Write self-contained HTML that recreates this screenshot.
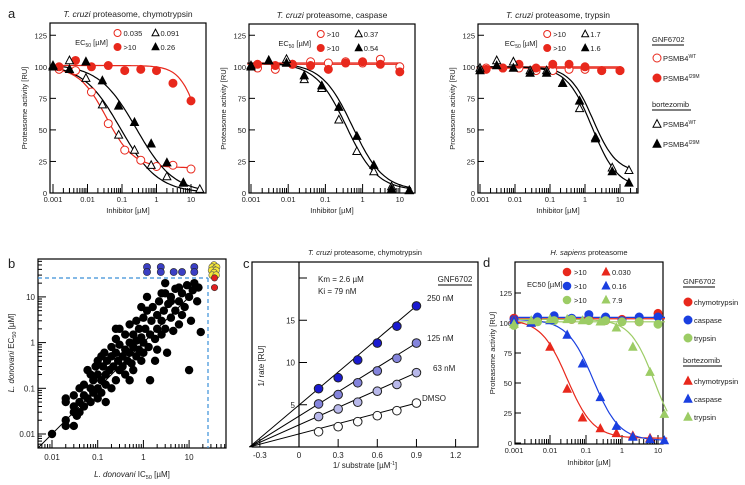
<!DOCTYPE html>
<html><head><meta charset="utf-8">
<style>
html,body{margin:0;padding:0;background:#fff;}
svg{display:block;font-family:"Liberation Sans",Arial,sans-serif;}
</style></head>
<body>
<svg id="fig" width="745" height="485" viewBox="0 0 745 485"></svg>
<script>
// ---------- DATA ----------
const a1X = [0.001,0.003,0.009,0.027,0.08,0.23,0.7,2,6,18];
const a1RedX = [0.0015,0.0045,0.013,0.04,0.12,0.35,1,3,10];
const a1OpenRed = [98,97,80,55,34,26,21,22,19];
const a1FillRed = [100,105,100,101,97,98,97,87,73];
const a1OpenTri = [101,105,91,70,46,34,22,13,8,3];
const a1FillTri = [100,98,104,89,69,56,39,24,8,null];
const a2OpenRed = [99,98,102,104,103,104,103,106,100];
const a2FillRed = [102,101,102,101,98,103,104,102,96];
const a2OpenTri = [101,105,106,90,83,58,33,17,5,2];
const a2FillTri = [100,105,103,93,85,68,45,22,3,2];
const a3OpenRed = [99,99,99,97,97,98,98,97,97];
const a3FillRed = [98,99,102,99,102,102,100,97,97];
const a3OpenTri = [99,105,104,97,97,87,67,44,20,18];
const a3FillTri = [97,101,99,95,95,87,73,43,17,8];
const a1Fits = [[100,20,0.035,1.1],[101,0,20,1.5],[102,0,0.091,0.8],[102,0,0.26,0.8]];
const a2Fits = [[103,103,1,1],[102,102,1,1],[103,2,0.37,1.05],[103,2,0.54,1.05]];
const a3Fits = [[99,99,1,1],[100,100,1,1],[100,16,1.7,1.3],[100,4,1.6,1.2]];
const yTicksA = [0,25,50,75,100,125];
const xTicksLog = [0.001,0.01,0.1,1,10];
const xTickLabels = ["0.001","0.01","0.1","1","10"];
const bPts = [[0.01,0.01],[0.02,0.015],[0.02,0.02],[0.02,0.05],[0.02,0.06],[0.03,0.03],[0.03,0.04],[0.03,0.07],[0.035,0.025],[0.04,0.05],[0.04,0.1],[0.04,0.03],[0.05,0.04],[0.05,0.07],[0.05,0.12],[0.06,0.25],[0.06,0.06],[0.07,0.05],[0.07,0.1],[0.07,0.2],[0.08,0.08],[0.08,0.15],[0.09,0.3],[0.1,0.1],[0.1,0.06],[0.1,0.2],[0.1,0.4],[0.12,0.15],[0.12,0.08],[0.13,0.3],[0.14,0.6],[0.15,0.12],[0.15,0.2],[0.16,0.4],[0.18,0.25],[0.2,0.1],[0.2,0.5],[0.2,0.8],[0.22,0.3],[0.25,0.15],[0.25,0.6],[0.25,1.2],[0.28,0.4],[0.3,0.25],[0.3,0.9],[0.3,2],[0.35,0.5],[0.35,0.3],[0.4,0.7],[0.4,1.5],[0.4,0.2],[0.45,0.4],[0.5,1],[0.5,0.6],[0.5,2.5],[0.55,0.35],[0.6,0.8],[0.6,1.5],[0.7,0.5],[0.7,3],[0.7,1.1],[0.8,0.7],[0.8,2],[0.9,0.4],[0.9,1.3],[1,1],[1,3.5],[1,0.6],[1.1,2],[1.2,5],[1.3,0.8],[1.4,1.5],[1.4,0.15],[1.5,3],[1.6,6],[1.8,1.2],[2,2],[2,4],[2,0.7],[2.2,8],[2.5,1.5],[2.5,3],[2.8,5],[3,12],[3,2],[3.3,0.6],[3.5,7],[4,3.5],[4,10],[4.5,1.8],[5,5],[5,15],[6,8],[6,2.5],[7,12],[7,4],[8,6],[9,18],[10,10],[10,0.25],[11,3],[12,14],[13,20],[15,8],[16,16],[18,1.7],[0.03,0.015],[0.15,0.05],[0.6,0.25],[2.5,12],[4,8],[0.25,2],[1.2,10],[6,16],[0.9,6],[1.8,0.4],[0.5,0.15],[0.12,0.5],[3,20]];
const bBlue = [[1.2,45],[2.4,45],[13,45],[1.2,35],[2.4,35],[4.6,35],[7,35],[13,35]];
const bYellow = [[35,50],[32,45],[40,45],[35,40],[31,38],[39,38],[35,34],[32,30],[39,30]];
const bRed = [[36,26],[36,16]];
const cX = [0.15,0.3,0.45,0.6,0.75,0.9];
const cDMSO = [1.8,2.4,3.0,3.7,4.3,5.2];
const c63 = [3.6,4.5,5.3,6.6,7.4,8.8];
const c125 = [5.1,6.2,7.6,9.0,10.5,12.3];
const c250 = [6.9,8.2,10.3,12.3,14.3,16.7];
const cLabels = ["DMSO","63 nM","125 nM","250 nM"];
const cXTicks = [-0.3,0,0.3,0.6,0.9,1.2];
const cYTicks = [5,10,15];
const dX = [0.001,0.003,0.01,0.03,0.08,0.25,0.7,2,6,15];
const dGX = [0.001,0.0045,0.013,0.04,0.12,0.35,1,3,10];
const dRedG = [104,103,104,103,104,102,103,101,108];
const dBlueG = [103,105,106,104,107,105,102,105,105];
const dGreenG = [98,101,102,103,102,102,101,101,99];
const dRedT = [103,100,80,45,21,12,8,6,4,null];
const dBlueT = [102,100,102,90,66,38,14,5,3,2];
const dGreenT = [99,102,103,103,102,101,96,80,59,24];
const dFits = [[103,4,0.030,1.2],[103,2,0.16,1.2],[103,0,7.9,1.3]];

// ---------- HELPERS ----------
const NS="http://www.w3.org/2000/svg";
const svg=document.getElementById('fig');
function el(tag,attrs,parent){const e=document.createElementNS(NS,tag);for(const k in attrs)e.setAttribute(k,attrs[k]);(parent||svg).appendChild(e);return e;}
function txt(x,y,s,size,anchor,parent,extra){const t=el('text',Object.assign({x:x,y:y,'font-size':size,'text-anchor':anchor||'middle',fill:'#222'},extra||{}),parent);t.textContent=s;return t;}
function logScale(x0,px0,pxPerDec){return v=>px0+Math.log10(v/x0)*pxPerDec;}
function linScale(v0,p0,k){return v=>p0+(v-v0)*k;}
function hill(f,x){return f[1]+(f[0]-f[1])/(1+Math.pow(x/f[2],f[3]));}
function marker(g,type,x,y,r,fill,stroke){
  let m;
  if(type==='c') m=el('circle',{cx:x,cy:y,r:r,fill:fill,stroke:stroke,'stroke-width':1},g);
  else m=el('polygon',{points:`${x},${y-r*1.1} ${x-r},${y+r*0.8} ${x+r},${y+r*0.8}`,fill:fill,stroke:stroke,'stroke-width':1},g);
  return m;
}
function logMinorTicks(g,sx,lo,hi,yb,big,small,xmin,xmax){
  for(let d=lo;d<hi;d*=10){for(let i=1;i<10;i++){const v=d*i;const x=sx(v);
    if(x<xmin-0.5||x>xmax-1)continue;
    el('line',{x1:x,x2:x,y1:yb,y2:yb-(i===1?big:small),stroke:'#000','stroke-width':1},g);}}
}
function curve(g,sx,sy,f,lo,hi,color){
  let d='';for(let i=0;i<=80;i++){const v=lo*Math.pow(hi/lo,i/80);d+=(i?'L':'M')+sx(v).toFixed(1)+','+sy(hill(f,v)).toFixed(1);}
  el('path',{d:d,fill:'none',stroke:color,'stroke-width':1.2},g);
}

// ---------- PANEL a ----------
function doseResponse(name,box,x001,pxDec,title,data,fits,legendVals,showYLabel){
  const g=el('g',{},svg);
  const sx=logScale(0.001,x001,pxDec), sy=linScale(0,box.b,-1.262);
  el('rect',{x:box.l,y:box.t,width:box.r-box.l,height:box.b-box.t,fill:'none',stroke:'#000','stroke-width':1.2},g);
  const tt=txt((box.l+box.r)/2,box.t-6,'',8.5,'middle',g);
  const it=el('tspan',{'font-style':'italic'},tt);it.textContent='T. cruzi';
  const rt=el('tspan',{},tt);rt.textContent=' proteasome, '+title;
  yTicksA.forEach(v=>{const y=sy(v);el('line',{x1:box.l,x2:box.l+6,y1:y,y2:y,stroke:'#000'},g);txt(box.l-3,y+3,String(v),7.5,'end',g);});
  logMinorTicks(g,sx,0.001,20,box.b,9,5,box.l,box.r);
  xTicksLog.forEach((v,i)=>txt(sx(v),box.b+9,xTickLabels[i],7.5,'middle',g));
  txt((box.l+box.r)/2,box.b+20,'Inhibitor [µM]',7.5,'middle',g);
  if(showYLabel) txt(0,0,'Proteasome activity [RU]',7.5,'middle',g,{transform:`translate(${box.l-23},${(box.t+box.b)/2}) rotate(-90)`});
  const red='#e8281c';
  const lo=0.0008,hi=20;
  curve(g,sx,sy,fits[0],lo,11,red);curve(g,sx,sy,fits[1],lo,11,red);
  curve(g,sx,sy,fits[2],lo,hi,'#000');curve(g,sx,sy,fits[3],lo,hi,'#000');
  const series=[[a1RedX,data[0],'c','#fff',red],[a1RedX,data[1],'c',red,red],[a1X,data[2],'t','#fff','#000'],[a1X,data[3],'t','#000','#000']];
  series.forEach(s=>s[1].forEach((v,i)=>{if(v==null)return;const m=marker(g,s[2],sx(s[0][i]),sy(v),4,s[3],s[4]);
    }));
  const lx=box.l+(box.r-box.l)*0.42;
  txt(lx-24,box.t+22,'EC',7.5,'middle',g).innerHTML='EC<tspan font-size="5" dy="2">50</tspan><tspan dy="-2"> [µM]</tspan>';
  marker(g,'c',lx+2,box.t+10,3.5,'#fff',red);txt(lx+8,box.t+13,legendVals[0],7.5,'start',g);
  marker(g,'c',lx+2,box.t+24,3.5,red,red);txt(lx+8,box.t+27,legendVals[1],7.5,'start',g);
  marker(g,'t',lx+40,box.t+10,3.5,'#fff','#000');txt(lx+45,box.t+13,legendVals[2],7.5,'start',g);
  marker(g,'t',lx+40,box.t+24,3.5,'#000','#000');txt(lx+45,box.t+27,legendVals[3],7.5,'start',g);
}
txt(8,18,'a',13,'start');
doseResponse('panel-a-chymotrypsin',{l:50,r:206,t:23,b:193},53,34.5,'chymotrypsin',[a1OpenRed,a1FillRed,a1OpenTri,a1FillTri],a1Fits,['0.035','>10','0.091','0.26'],true);
doseResponse('panel-a-caspase',{l:249,r:415,t:24,b:193},251,37.2,'caspase',[a2OpenRed,a2FillRed,a2OpenTri,a2FillTri],a2Fits,['>10','>10','0.37','0.54'],true);
doseResponse('panel-a-trypsin',{l:478,r:638,t:24,b:193},480,35,'trypsin',[a3OpenRed,a3FillRed,a3OpenTri,a3FillTri],a3Fits,['>10','>10','1.7','1.6'],true);
(function(){
  const g=el('g',{},svg);
  const red='#e8281c';
  txt(652,42,'GNF6702',7.5,'start',g);el('line',{x1:652,x2:684,y1:45,y2:45,stroke:'#000'},g);
  marker(g,'c',657,58,4,'#fff',red);txt(663,61,'PSMB4',7.5,'start',g).innerHTML='PSMB4<tspan font-size="5" dy="-3">WT</tspan>';
  marker(g,'c',657,78,4,red,red);txt(663,81,'PSMB4',7.5,'start',g).innerHTML='PSMB4<tspan font-size="5" dy="-3">I29M</tspan>';
  txt(652,107,'bortezomib',7.5,'start',g);el('line',{x1:652,x2:691,y1:110,y2:110,stroke:'#000'},g);
  marker(g,'t',657,124,4,'#fff','#000');txt(663,127,'PSMB4',7.5,'start',g).innerHTML='PSMB4<tspan font-size="5" dy="-3">WT</tspan>';
  marker(g,'t',657,144,4,'#000','#000');txt(663,147,'PSMB4',7.5,'start',g).innerHTML='PSMB4<tspan font-size="5" dy="-3">I29M</tspan>';
})();

// ---------- PANEL b ----------
(function(){
  const g=el('g',{},svg);
  txt(8,268,'b',13,'start',g);
  const box={l:38,r:226,t:259,b:448};
  const sx=logScale(0.01,52,45.7), sy=v=>434-Math.log10(v/0.01)*45.7;
  el('rect',{x:box.l,y:box.t,width:box.r-box.l,height:box.b-box.t,fill:'none',stroke:'#000','stroke-width':1.2},g);
  logMinorTicks(g,sx,0.001,30,box.b,8,4,box.l,box.r);
  for(let d=0.001;d<30;d*=10)for(let i=1;i<10;i++){const y=sy(d*i);if(y<box.t||y>box.b)continue;el('line',{x1:box.l,x2:box.l+(i===1?8:4),y1:y,y2:y,stroke:'#000'},g);}
  [0.01,0.1,1,10].forEach((v,i)=>{const L=["0.01","0.1","1","10"][i];txt(sx(v),box.b+12,L,8,'middle',g);txt(box.l-3,sy(v)+3,L,8,'end',g);});
  el('line',{x1:box.l,y1:sy(0.01*Math.pow(10,(box.l-52)/45.7)),x2:sx(18),y2:sy(18),stroke:'#000','stroke-width':1},g);
  bPts.forEach(p=>{const c=el('circle',{cx:sx(p[0]),cy:sy(p[1]),r:4.2,fill:'#000'},g);});
  el('line',{x1:box.l,x2:208,y1:278,y2:278,stroke:'#3a8fd8','stroke-dasharray':'4,3','stroke-width':1.2},g);
  el('line',{x1:208,x2:208,y1:278,y2:box.b,stroke:'#3a8fd8','stroke-dasharray':'4,3','stroke-width':1.2},g);
  bBlue.forEach(p=>el('circle',{cx:sx(p[0]),cy:sy(p[1]),r:3.6,fill:'#3b3fc4',stroke:'#222','stroke-width':0.6},g));
  bYellow.forEach(p=>el('circle',{cx:sx(p[0]),cy:sy(p[1]),r:3.4,fill:'#f6e83a',stroke:'#555','stroke-width':0.6},g));
  bRed.forEach(p=>el('circle',{cx:sx(p[0]),cy:sy(p[1]),r:3.2,fill:'#e02020',stroke:'#333','stroke-width':0.6},g));
  const xl=txt(132,477,'',8,'middle',g);xl.innerHTML='<tspan font-style="italic">L. donovani</tspan> IC<tspan font-size="5.5" dy="2">50</tspan><tspan dy="-2"> [µM]</tspan>';
  const yl=txt(0,0,'',8,'middle',g,{transform:'translate(14,353) rotate(-90)'});yl.innerHTML='<tspan font-style="italic">L. donovani</tspan> EC<tspan font-size="5.5" dy="2">50</tspan><tspan dy="-2"> [µM]</tspan>';
})();

// ---------- PANEL c ----------
(function(){
  const g=el('g',{},svg);
  txt(243,268,'c',13,'start',g);
  const box={l:252,r:478,t:262,b:447};
  const sx=linScale(0,299,130.5), sy=linScale(0,447,-8.45);
  el('rect',{x:box.l,y:box.t,width:box.r-box.l,height:box.b-box.t,fill:'none',stroke:'#000','stroke-width':1.2},g);
  el('line',{x1:299,x2:299,y1:box.t,y2:box.b,stroke:'#000','stroke-width':1.2},g);
  const t=txt(365,255,'',7.5,'middle',g);t.innerHTML='<tspan font-style="italic">T. cruzi</tspan> proteasome, chymotrypsin';
  cXTicks.forEach(v=>{const x=sx(v);el('line',{x1:x,x2:x,y1:box.b,y2:box.b-8,stroke:'#000'},g);txt(x,box.b+11,String(v),8,'middle',g);});
  cYTicks.concat([20]).forEach(v=>{const y=sy(v);el('line',{x1:299,x2:307,y1:y,y2:y,stroke:'#000'},g);if(v<20)txt(295,y+3,String(v),8,'end',g);});
  txt(365,468,'',8,'middle',g).innerHTML='1/ substrate [µM<tspan font-size="5" dy="-3">-1</tspan><tspan dy="3">]</tspan>';
  txt(0,0,'1/ rate [RU]',8,'middle',g,{transform:'translate(264,366) rotate(-90)'});
  txt(318,282,'Km = 2.6 µM',8,'start',g);txt(318,294,'Ki = 79 nM',8,'start',g);
  txt(455,282,'GNF6702',8,'middle',g);el('line',{x1:438,x2:472,y1:285,y2:285,stroke:'#000'},g);
  const sets=[[cDMSO,'#fff'],[c63,'#b8b8ea'],[c125,'#8484dc'],[c250,'#1a1ad0']];
  const labY=[401,371,341,301];
  const labX=[422,433,427,427];
  sets.forEach((s,k)=>{
    const n=s[0].length;
    const slope=s[0][n-1]/(cX[n-1]+0.38);
    el('line',{x1:sx(-0.38),y1:sy(0),x2:sx(cX[n-1]+0.01),y2:sy(slope*(cX[n-1]+0.39)),stroke:'#000','stroke-width':1},g);
    s[0].forEach((v,i)=>{const c=el('circle',{cx:sx(cX[i]),cy:sy(v),r:4.3,fill:s[1],stroke:'#222','stroke-width':1},g);
      });
    txt(labX[k],labY[k],cLabels[k],8,'start',g);
  });
})();

// ---------- PANEL d ----------
(function(){
  const g=el('g',{},svg);
  txt(483,267,'d',13,'start',g);
  const box={l:515,r:663,t:262,b:444};
  const sx=logScale(0.001,514,36), sy=linScale(0,443,-1.2);
  el('rect',{x:box.l,y:box.t,width:box.r-box.l,height:box.b-box.t,fill:'none',stroke:'#000','stroke-width':1.2},g);
  const t=txt(589,255,'',7.5,'middle',g);t.innerHTML='<tspan font-style="italic">H. sapiens</tspan> proteasome';
  yTicksA.forEach(v=>{const y=sy(v);el('line',{x1:box.l,x2:box.l+6,y1:y,y2:y,stroke:'#000'},g);txt(box.l-3,y+3,String(v),7.5,'end',g);});
  logMinorTicks(g,sx,0.001,20,box.b,9,5,box.l,box.r);
  xTicksLog.forEach((v,i)=>txt(sx(v),box.b+9,xTickLabels[i],7.5,'middle',g));
  txt(589,465,'Inhibitor [µM]',7.5,'middle',g);
  txt(0,0,'Proteasome activity [RU]',7.5,'middle',g,{transform:'translate(495,353) rotate(-90)'});
  const cols=['#e8281c','#1a3fe0','#9ccc65'];
  [dRedG,dBlueG,dGreenG].forEach((arr,k)=>{
    const m=arr.reduce((a,b)=>a+b,0)/arr.length;
    el('line',{x1:box.l-4,x2:box.r+2,y1:sy(m),y2:sy(m),stroke:cols[k],'stroke-width':1.2},g);
  });
  dFits.forEach((f,k)=>curve(g,sx,sy,f,0.0009,18,cols[k]));
  [dRedG,dBlueG,dGreenG].forEach((arr,k)=>arr.forEach((v,i)=>{const c=marker(g,'c',sx(dGX[i]),sy(v),4,cols[k],cols[k]);
    }));
  [dRedT,dBlueT,dGreenT].forEach((arr,k)=>arr.forEach((v,i)=>{if(v==null)return;const c=marker(g,'t',sx(dX[i]),sy(v),4,cols[k],cols[k]);
    }));
  txt(527,287,'EC50 [µM]',7.5,'start',g);
  const vals=[['>10','0.030'],['>10','0.16'],['>10','7.9']];
  vals.forEach((v,k)=>{const y=272+k*14;
    marker(g,'c',567,y,3.8,cols[k],cols[k]);txt(574,y+3,v[0],7.5,'start',g);
    marker(g,'t',606,y,3.8,cols[k],cols[k]);txt(612,y+3,v[1],7.5,'start',g);});
  txt(683,284,'GNF6702',7.5,'start',g);el('line',{x1:683,x2:715,y1:287,y2:287,stroke:'#000'},g);
  const names=['chymotrypsin','caspase','trypsin'];
  names.forEach((n,k)=>{const y=302+k*18;marker(g,'c',688,y,4,cols[k],cols[k]);txt(694,y+3,n,7.5,'start',g);});
  txt(683,363,'bortezomib',7.5,'start',g);el('line',{x1:683,x2:722,y1:366,y2:366,stroke:'#000'},g);
  names.forEach((n,k)=>{const y=381+k*18;marker(g,'t',688,y,4,cols[k],cols[k]);txt(694,y+3,n,7.5,'start',g);});
})();
</script>
</body></html>
